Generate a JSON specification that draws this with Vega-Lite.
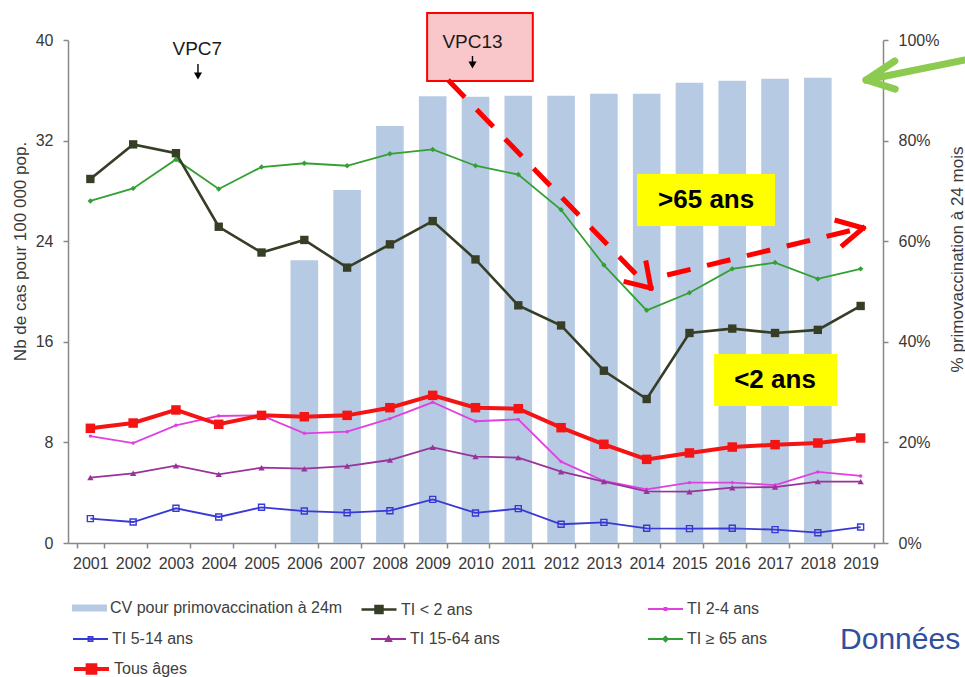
{
  "$schema": "https://vega.github.io/schema/vega-lite/v6.json",
  "width": 815,
  "height": 503,
  "autosize": {"type": "none"},
  "padding": {"left": 68, "top": 40, "right": 82, "bottom": 134},
  "background": "white",
  "config": {
    "view": {"stroke": null},
    "font": "Liberation Sans",
    "axis": {"labelFont": "Liberation Sans", "labelFontSize": 16, "labelColor": "#383838", "domainColor": "#888888", "domainWidth": 1.5, "tickColor": "#888888", "tickWidth": 1.5, "tickSize": 5, "grid": false, "titleFont": "Liberation Sans", "titleFontSize": 17, "titleFontWeight": "normal", "titleColor": "#383838"},
    "axisX": {"labelPadding": 7, "labelAngle": 0, "tickBand": "extent"},
    "axisLeft": {"labelPadding": 10, "titleAngle": -90, "titleX": -48, "titleY": 211, "titleBaseline": "middle", "titleAlign": "center"},
    "axisRight": {"labelPadding": 10, "titleAngle": -90, "titleX": 74, "titleY": 219, "titleBaseline": "middle", "titleAlign": "center"},
    "legend": {"labelFont": "Liberation Sans", "labelFontSize": 16, "labelColor": "#404040", "labelLimit": 400, "labelOffset": 3, "padding": 0}
  },
  "datasets": {
    "cv": [
      {"annee": "2006", "serie": "CV pour primovaccination à 24m", "cv": 56.2},
      {"annee": "2007", "serie": "CV pour primovaccination à 24m", "cv": 70.2},
      {"annee": "2008", "serie": "CV pour primovaccination à 24m", "cv": 82.9},
      {"annee": "2009", "serie": "CV pour primovaccination à 24m", "cv": 88.8},
      {"annee": "2010", "serie": "CV pour primovaccination à 24m", "cv": 88.7},
      {"annee": "2011", "serie": "CV pour primovaccination à 24m", "cv": 88.9},
      {"annee": "2012", "serie": "CV pour primovaccination à 24m", "cv": 88.9},
      {"annee": "2013", "serie": "CV pour primovaccination à 24m", "cv": 89.3},
      {"annee": "2014", "serie": "CV pour primovaccination à 24m", "cv": 89.3},
      {"annee": "2015", "serie": "CV pour primovaccination à 24m", "cv": 91.5},
      {"annee": "2016", "serie": "CV pour primovaccination à 24m", "cv": 91.9},
      {"annee": "2017", "serie": "CV pour primovaccination à 24m", "cv": 92.3},
      {"annee": "2018", "serie": "CV pour primovaccination à 24m", "cv": 92.5}
    ],
    "ti": [
      {"annee": "2001", "serie": "TI < 2 ans", "v": 28.95},
      {"annee": "2002", "serie": "TI < 2 ans", "v": 31.7},
      {"annee": "2003", "serie": "TI < 2 ans", "v": 31.0},
      {"annee": "2004", "serie": "TI < 2 ans", "v": 25.15},
      {"annee": "2005", "serie": "TI < 2 ans", "v": 23.1},
      {"annee": "2006", "serie": "TI < 2 ans", "v": 24.1},
      {"annee": "2007", "serie": "TI < 2 ans", "v": 21.9},
      {"annee": "2008", "serie": "TI < 2 ans", "v": 23.75},
      {"annee": "2009", "serie": "TI < 2 ans", "v": 25.6},
      {"annee": "2010", "serie": "TI < 2 ans", "v": 22.55},
      {"annee": "2011", "serie": "TI < 2 ans", "v": 18.9},
      {"annee": "2012", "serie": "TI < 2 ans", "v": 17.3},
      {"annee": "2013", "serie": "TI < 2 ans", "v": 13.7},
      {"annee": "2014", "serie": "TI < 2 ans", "v": 11.45},
      {"annee": "2015", "serie": "TI < 2 ans", "v": 16.7},
      {"annee": "2016", "serie": "TI < 2 ans", "v": 17.05},
      {"annee": "2017", "serie": "TI < 2 ans", "v": 16.7},
      {"annee": "2018", "serie": "TI < 2 ans", "v": 16.95},
      {"annee": "2019", "serie": "TI < 2 ans", "v": 18.85},
      {"annee": "2001", "serie": "TI 2-4 ans", "v": 8.5},
      {"annee": "2002", "serie": "TI 2-4 ans", "v": 7.95},
      {"annee": "2003", "serie": "TI 2-4 ans", "v": 9.36},
      {"annee": "2004", "serie": "TI 2-4 ans", "v": 10.1},
      {"annee": "2005", "serie": "TI 2-4 ans", "v": 10.15},
      {"annee": "2006", "serie": "TI 2-4 ans", "v": 8.72},
      {"annee": "2007", "serie": "TI 2-4 ans", "v": 8.85},
      {"annee": "2008", "serie": "TI 2-4 ans", "v": 9.89},
      {"annee": "2009", "serie": "TI 2-4 ans", "v": 11.19},
      {"annee": "2010", "serie": "TI 2-4 ans", "v": 9.68},
      {"annee": "2011", "serie": "TI 2-4 ans", "v": 9.83},
      {"annee": "2012", "serie": "TI 2-4 ans", "v": 6.47},
      {"annee": "2013", "serie": "TI 2-4 ans", "v": 4.93},
      {"annee": "2014", "serie": "TI 2-4 ans", "v": 4.27},
      {"annee": "2015", "serie": "TI 2-4 ans", "v": 4.8},
      {"annee": "2016", "serie": "TI 2-4 ans", "v": 4.8},
      {"annee": "2017", "serie": "TI 2-4 ans", "v": 4.61},
      {"annee": "2018", "serie": "TI 2-4 ans", "v": 5.65},
      {"annee": "2019", "serie": "TI 2-4 ans", "v": 5.33},
      {"annee": "2001", "serie": "TI 5-14 ans", "v": 1.94},
      {"annee": "2002", "serie": "TI 5-14 ans", "v": 1.67},
      {"annee": "2003", "serie": "TI 5-14 ans", "v": 2.76},
      {"annee": "2004", "serie": "TI 5-14 ans", "v": 2.07},
      {"annee": "2005", "serie": "TI 5-14 ans", "v": 2.84},
      {"annee": "2006", "serie": "TI 5-14 ans", "v": 2.54},
      {"annee": "2007", "serie": "TI 5-14 ans", "v": 2.41},
      {"annee": "2008", "serie": "TI 5-14 ans", "v": 2.57},
      {"annee": "2009", "serie": "TI 5-14 ans", "v": 3.47},
      {"annee": "2010", "serie": "TI 5-14 ans", "v": 2.39},
      {"annee": "2011", "serie": "TI 5-14 ans", "v": 2.73},
      {"annee": "2012", "serie": "TI 5-14 ans", "v": 1.49},
      {"annee": "2013", "serie": "TI 5-14 ans", "v": 1.64},
      {"annee": "2014", "serie": "TI 5-14 ans", "v": 1.17},
      {"annee": "2015", "serie": "TI 5-14 ans", "v": 1.14},
      {"annee": "2016", "serie": "TI 5-14 ans", "v": 1.17},
      {"annee": "2017", "serie": "TI 5-14 ans", "v": 1.06},
      {"annee": "2018", "serie": "TI 5-14 ans", "v": 0.82},
      {"annee": "2019", "serie": "TI 5-14 ans", "v": 1.27},
      {"annee": "2001", "serie": "TI 15-64 ans", "v": 5.2},
      {"annee": "2002", "serie": "TI 15-64 ans", "v": 5.54},
      {"annee": "2003", "serie": "TI 15-64 ans", "v": 6.15},
      {"annee": "2004", "serie": "TI 15-64 ans", "v": 5.46},
      {"annee": "2005", "serie": "TI 15-64 ans", "v": 5.99},
      {"annee": "2006", "serie": "TI 15-64 ans", "v": 5.91},
      {"annee": "2007", "serie": "TI 15-64 ans", "v": 6.12},
      {"annee": "2008", "serie": "TI 15-64 ans", "v": 6.6},
      {"annee": "2009", "serie": "TI 15-64 ans", "v": 7.61},
      {"annee": "2010", "serie": "TI 15-64 ans", "v": 6.87},
      {"annee": "2011", "serie": "TI 15-64 ans", "v": 6.79},
      {"annee": "2012", "serie": "TI 15-64 ans", "v": 5.67},
      {"annee": "2013", "serie": "TI 15-64 ans", "v": 4.88},
      {"annee": "2014", "serie": "TI 15-64 ans", "v": 4.11},
      {"annee": "2015", "serie": "TI 15-64 ans", "v": 4.08},
      {"annee": "2016", "serie": "TI 15-64 ans", "v": 4.4},
      {"annee": "2017", "serie": "TI 15-64 ans", "v": 4.45},
      {"annee": "2018", "serie": "TI 15-64 ans", "v": 4.88},
      {"annee": "2019", "serie": "TI 15-64 ans", "v": 4.88},
      {"annee": "2001", "serie": "TI ≥ 65 ans", "v": 27.2},
      {"annee": "2002", "serie": "TI ≥ 65 ans", "v": 28.2},
      {"annee": "2003", "serie": "TI ≥ 65 ans", "v": 30.5},
      {"annee": "2004", "serie": "TI ≥ 65 ans", "v": 28.15},
      {"annee": "2005", "serie": "TI ≥ 65 ans", "v": 29.9},
      {"annee": "2006", "serie": "TI ≥ 65 ans", "v": 30.2},
      {"annee": "2007", "serie": "TI ≥ 65 ans", "v": 30.0},
      {"annee": "2008", "serie": "TI ≥ 65 ans", "v": 30.95},
      {"annee": "2009", "serie": "TI ≥ 65 ans", "v": 31.3},
      {"annee": "2010", "serie": "TI ≥ 65 ans", "v": 30.0},
      {"annee": "2011", "serie": "TI ≥ 65 ans", "v": 29.3},
      {"annee": "2012", "serie": "TI ≥ 65 ans", "v": 26.5},
      {"annee": "2013", "serie": "TI ≥ 65 ans", "v": 22.1},
      {"annee": "2014", "serie": "TI ≥ 65 ans", "v": 18.5},
      {"annee": "2015", "serie": "TI ≥ 65 ans", "v": 19.9},
      {"annee": "2016", "serie": "TI ≥ 65 ans", "v": 21.8},
      {"annee": "2017", "serie": "TI ≥ 65 ans", "v": 22.3},
      {"annee": "2018", "serie": "TI ≥ 65 ans", "v": 21.0},
      {"annee": "2019", "serie": "TI ≥ 65 ans", "v": 21.8},
      {"annee": "2001", "serie": "Tous âges", "v": 9.12},
      {"annee": "2002", "serie": "Tous âges", "v": 9.54},
      {"annee": "2003", "serie": "Tous âges", "v": 10.58},
      {"annee": "2004", "serie": "Tous âges", "v": 9.44},
      {"annee": "2005", "serie": "Tous âges", "v": 10.15},
      {"annee": "2006", "serie": "Tous âges", "v": 10.04},
      {"annee": "2007", "serie": "Tous âges", "v": 10.15},
      {"annee": "2008", "serie": "Tous âges", "v": 10.76},
      {"annee": "2009", "serie": "Tous âges", "v": 11.74},
      {"annee": "2010", "serie": "Tous âges", "v": 10.76},
      {"annee": "2011", "serie": "Tous âges", "v": 10.68},
      {"annee": "2012", "serie": "Tous âges", "v": 9.17},
      {"annee": "2013", "serie": "Tous âges", "v": 7.85},
      {"annee": "2014", "serie": "Tous âges", "v": 6.65},
      {"annee": "2015", "serie": "Tous âges", "v": 7.16},
      {"annee": "2016", "serie": "Tous âges", "v": 7.63},
      {"annee": "2017", "serie": "Tous âges", "v": 7.82},
      {"annee": "2018", "serie": "Tous âges", "v": 7.95},
      {"annee": "2019", "serie": "Tous âges", "v": 8.35}
    ]
  },
  "layer": [
    {
      "layer": [
        {
          "data": {"name": "cv"},
          "mark": {"type": "bar"},
          "encoding": {
            "x": {
              "field": "annee", "type": "ordinal",
              "scale": {"domain": ["2001","2002","2003","2004","2005","2006","2007","2008","2009","2010","2011","2012","2013","2014","2015","2016","2017","2018","2019"], "paddingInner": 0.355, "paddingOuter": 0.2},
              "axis": {"title": null, "tickBand": "extent", "labelAngle": 0}
            },
            "y": {
              "field": "cv", "type": "quantitative",
              "scale": {"domain": [0, 100], "nice": false},
              "axis": {"orient": "right", "values": [0, 20, 40, 60, 80, 100], "labelExpr": "datum.value + '%'", "title": "% primovaccination à 24 mois"}
            },
            "color": {
              "field": "serie", "type": "nominal",
              "scale": {"domain": ["CV pour primovaccination à 24m"], "range": ["#B7CAE3"]},
              "legend": {"title": null, "orient": "none", "legendX": 4, "legendY": 550.5,
                "encode": {"symbols": {"update": {"shape": {"value": "M-1,-0.2H1V0.2H-1Z"}, "size": {"value": 1225}, "fill": {"value": "#B7CAE3"}, "stroke": {"value": "#B7CAE3"}, "strokeWidth": {"value": 0}, "opacity": {"value": 1}}}}}
            }
          }
        },
        {
          "layer": [
            {
              "data": {"name": "ti"},
              "transform": [{"filter": "datum.serie === 'TI ≥ 65 ans'"}],
              "mark": {"type": "line", "strokeWidth": 1.8, "point": {"shape": "diamond", "size": 30, "filled": true}},
              "encoding": {
                "x": {"field": "annee", "type": "ordinal", "axis": {"title": null, "tickBand": "extent", "labelAngle": 0}},
                "y": {"field": "v", "type": "quantitative", "scale": {"domain": [0, 40], "nice": false},
                  "axis": {"orient": "left", "values": [0, 8, 16, 24, 32, 40], "title": "Nb de cas pour 100 000 pop."}},
                "color": {"field": "serie", "type": "nominal", "scale": {"domain": ["TI ≥ 65 ans"], "range": ["#33A033"]},
                  "legend": {"title": null, "orient": "none", "legendX": 579, "legendY": 580.5,
                    "encode": {"symbols": {"update": {"shape": {"value": "M-1,0H1M0,-0.14L0.14,0L0,0.14L-0.14,0Z"}, "size": {"value": 1225}, "fill": {"value": "#33A033"}, "stroke": {"value": "#33A033"}, "strokeWidth": {"value": 1.8}, "opacity": {"value": 1}}}}}}
              }
            },
            {
              "data": {"name": "ti"},
              "transform": [{"filter": "datum.serie === 'TI < 2 ans'"}],
              "mark": {"type": "line", "strokeWidth": 2.6, "point": {"shape": "square", "size": 70, "filled": true}},
              "encoding": {
                "x": {"field": "annee", "type": "ordinal", "axis": {"title": null, "tickBand": "extent", "labelAngle": 0}},
                "y": {"field": "v", "type": "quantitative", "scale": {"domain": [0, 40], "nice": false},
                  "axis": {"orient": "left", "values": [0, 8, 16, 24, 32, 40], "title": "Nb de cas pour 100 000 pop."}},
                "color": {"field": "serie", "type": "nominal", "scale": {"domain": ["TI < 2 ans"], "range": ["#363E26"]},
                  "legend": {"title": null, "orient": "none", "legendX": 292, "legendY": 550.5,
                    "encode": {"symbols": {"update": {"shape": {"value": "M-1,0H1M-0.2,-0.2H0.2V0.2H-0.2Z"}, "size": {"value": 1225}, "fill": {"value": "#363E26"}, "stroke": {"value": "#363E26"}, "strokeWidth": {"value": 2.5}, "opacity": {"value": 1}}}}}}
              }
            },
            {
              "data": {"name": "ti"},
              "transform": [{"filter": "datum.serie === 'TI 2-4 ans'"}],
              "mark": {"type": "line", "strokeWidth": 1.8, "point": {"shape": "circle", "size": 12, "filled": true}},
              "encoding": {
                "x": {"field": "annee", "type": "ordinal", "axis": {"title": null, "tickBand": "extent", "labelAngle": 0}},
                "y": {"field": "v", "type": "quantitative", "scale": {"domain": [0, 40], "nice": false},
                  "axis": {"orient": "left", "values": [0, 8, 16, 24, 32, 40], "title": "Nb de cas pour 100 000 pop."}},
                "color": {"field": "serie", "type": "nominal", "scale": {"domain": ["TI 2-4 ans"], "range": ["#E040E0"]},
                  "legend": {"title": null, "orient": "none", "legendX": 579, "legendY": 550.5,
                    "encode": {"symbols": {"update": {"shape": {"value": "M-1,0H1M-0.06,-0.06H0.06V0.06H-0.06Z"}, "size": {"value": 1225}, "fill": {"value": "#E040E0"}, "stroke": {"value": "#E040E0"}, "strokeWidth": {"value": 1.8}, "opacity": {"value": 1}}}}}}
              }
            },
            {
              "data": {"name": "ti"},
              "transform": [{"filter": "datum.serie === 'TI 15-64 ans'"}],
              "mark": {"type": "line", "strokeWidth": 1.8, "point": {"shape": "triangle-up", "size": 40, "filled": true}},
              "encoding": {
                "x": {"field": "annee", "type": "ordinal", "axis": {"title": null, "tickBand": "extent", "labelAngle": 0}},
                "y": {"field": "v", "type": "quantitative", "scale": {"domain": [0, 40], "nice": false},
                  "axis": {"orient": "left", "values": [0, 8, 16, 24, 32, 40], "title": "Nb de cas pour 100 000 pop."}},
                "color": {"field": "serie", "type": "nominal", "scale": {"domain": ["TI 15-64 ans"], "range": ["#993399"]},
                  "legend": {"title": null, "orient": "none", "legendX": 302, "legendY": 580.5,
                    "encode": {"symbols": {"update": {"shape": {"value": "M-1,0H1M0,-0.16L0.16,0.12H-0.16Z"}, "size": {"value": 1225}, "fill": {"value": "#993399"}, "stroke": {"value": "#993399"}, "strokeWidth": {"value": 1.8}, "opacity": {"value": 1}}}}}}
              }
            },
            {
              "data": {"name": "ti"},
              "transform": [{"filter": "datum.serie === 'TI 5-14 ans'"}],
              "mark": {"type": "line", "strokeWidth": 1.8, "point": {"shape": "square", "size": 36, "filled": false, "strokeWidth": 1.4}},
              "encoding": {
                "x": {"field": "annee", "type": "ordinal", "axis": {"title": null, "tickBand": "extent", "labelAngle": 0}},
                "y": {"field": "v", "type": "quantitative", "scale": {"domain": [0, 40], "nice": false},
                  "axis": {"orient": "left", "values": [0, 8, 16, 24, 32, 40], "title": "Nb de cas pour 100 000 pop."}},
                "color": {"field": "serie", "type": "nominal", "scale": {"domain": ["TI 5-14 ans"], "range": ["#3838D6"]},
                  "legend": {"title": null, "orient": "none", "legendX": 4, "legendY": 580.5,
                    "encode": {"symbols": {"update": {"shape": {"value": "M-1,0H1M-0.12,-0.12H0.12V0.12H-0.12Z"}, "size": {"value": 1225}, "fill": {"value": "#ffffff"}, "stroke": {"value": "#3838D6"}, "strokeWidth": {"value": 1.8}, "opacity": {"value": 1}}}}}}
              }
            },
            {
              "data": {"name": "ti"},
              "transform": [{"filter": "datum.serie === 'Tous âges'"}],
              "mark": {"type": "line", "strokeWidth": 4, "point": {"shape": "square", "size": 90, "filled": true}},
              "encoding": {
                "x": {"field": "annee", "type": "ordinal", "axis": {"title": null, "tickBand": "extent", "labelAngle": 0}},
                "y": {"field": "v", "type": "quantitative", "scale": {"domain": [0, 40], "nice": false},
                  "axis": {"orient": "left", "values": [0, 8, 16, 24, 32, 40], "title": "Nb de cas pour 100 000 pop."}},
                "color": {"field": "serie", "type": "nominal", "scale": {"domain": ["Tous âges"], "range": ["#F41414"]},
                  "legend": {"title": null, "orient": "none", "legendX": 4, "legendY": 609.5,
                    "encode": {"symbols": {"update": {"shape": {"value": "M-1,0H1M-0.22,-0.22H0.22V0.22H-0.22Z"}, "size": {"value": 1225}, "fill": {"value": "#F41414"}, "stroke": {"value": "#F41414"}, "strokeWidth": {"value": 4}, "opacity": {"value": 1}}}}}}
              }
            }
          ],
          "resolve": {"scale": {"color": "independent"}}
        }
      ],
      "resolve": {"scale": {"y": "independent", "color": "independent"}}
    },
    {
      "layer": [
        {
          "data": {"values": [{"xa": 2008.87, "xb": 2011.34, "ya": 42.15, "yb": 36.74}]},
          "mark": {"type": "rect", "fill": "#F9C6C9", "stroke": "#FF0000", "strokeWidth": 2},
          "encoding": {
            "x": {"field": "xa", "type": "quantitative", "scale": {"domain": [2000.4774, 2019.5239], "nice": false, "zero": false}, "axis": null},
            "x2": {"field": "xb"},
            "y": {"field": "ya", "type": "quantitative", "scale": {"domain": [0, 40], "nice": false, "zero": false}, "axis": null},
            "y2": {"field": "yb"}
          }
        },
        {
          "data": {"values": [{"xa": 2013.775, "xb": 2017.0, "ya": 29.34, "yb": 25.21}, {"xa": 2015.575, "xb": 2018.45, "ya": 15.03, "yb": 10.89}]},
          "mark": {"type": "rect", "fill": "#FFFF00"},
          "encoding": {
            "x": {"field": "xa", "type": "quantitative", "scale": {"domain": [2000.4774, 2019.5239], "nice": false, "zero": false}, "axis": null},
            "x2": {"field": "xb"},
            "y": {"field": "ya", "type": "quantitative", "scale": {"domain": [0, 40], "nice": false, "zero": false}, "axis": null},
            "y2": {"field": "yb"}
          }
        },
        {
          "data": {"values": [{"label": "VPC7", "xa": 2003.5, "ya": 39.32}, {"label": "VPC13", "xa": 2009.93, "ya": 39.84}]},
          "mark": {"type": "text", "fontSize": 19, "color": "#1a1a1a", "align": "center", "baseline": "middle"},
          "encoding": {
            "x": {"field": "xa", "type": "quantitative", "scale": {"domain": [2000.4774, 2019.5239], "nice": false, "zero": false}, "axis": null},
            "y": {"field": "ya", "type": "quantitative", "scale": {"domain": [0, 40], "nice": false, "zero": false}, "axis": null},
            "text": {"field": "label"}
          }
        },
        {
          "data": {"values": [{"xa": 2003.515, "ya": 38.09, "xb": 2003.515, "yb": 37.3}, {"xa": 2009.93, "ya": 38.73, "xb": 2009.93, "yb": 38.1}]},
          "mark": {"type": "rule", "color": "#000000", "strokeWidth": 1.4},
          "encoding": {
            "x": {"field": "xa", "type": "quantitative", "scale": {"domain": [2000.4774, 2019.5239], "nice": false, "zero": false}, "axis": null},
            "x2": {"field": "xb"},
            "y": {"field": "ya", "type": "quantitative", "scale": {"domain": [0, 40], "nice": false, "zero": false}, "axis": null},
            "y2": {"field": "yb"}
          }
        },
        {
          "data": {"values": [{"xa": 2003.515, "ya": 37.14}, {"xa": 2009.93, "ya": 38.01}]},
          "mark": {"type": "point", "shape": "triangle-down", "size": 65, "filled": true, "color": "#000000", "opacity": 1},
          "encoding": {
            "x": {"field": "xa", "type": "quantitative", "scale": {"domain": [2000.4774, 2019.5239], "nice": false, "zero": false}, "axis": null},
            "y": {"field": "ya", "type": "quantitative", "scale": {"domain": [0, 40], "nice": false, "zero": false}, "axis": null}
          }
        },
        {
          "data": {"values": [{"label": ">65 ans", "xa": 2015.39, "ya": 27.28}, {"label": "<2 ans", "xa": 2017.0, "ya": 12.96}]},
          "mark": {"type": "text", "fontSize": 26, "fontWeight": "bold", "color": "#000000", "align": "center", "baseline": "middle"},
          "encoding": {
            "x": {"field": "xa", "type": "quantitative", "scale": {"domain": [2000.4774, 2019.5239], "nice": false, "zero": false}, "axis": null},
            "y": {"field": "ya", "type": "quantitative", "scale": {"domain": [0, 40], "nice": false, "zero": false}, "axis": null},
            "text": {"field": "label"}
          }
        },
        {
          "data": {"values": [{"label": "Données", "xa": 2018.52, "ya": -7.71}]},
          "mark": {"type": "text", "fontSize": 30, "color": "#2F4F9F", "align": "left", "baseline": "middle"},
          "encoding": {
            "x": {"field": "xa", "type": "quantitative", "scale": {"domain": [2000.4774, 2019.5239], "nice": false, "zero": false}, "axis": null},
            "y": {"field": "ya", "type": "quantitative", "scale": {"domain": [0, 40], "nice": false, "zero": false}, "axis": null},
            "text": {"field": "label"}
          }
        },
        {
          "data": {"values": [{"xa": 2009.36, "ya": 36.82, "xb": 2014.0, "yb": 20.5}, {"xa": 2014.48, "ya": 21.31, "xb": 2018.95, "yb": 25.0}]},
          "mark": {"type": "rule", "color": "#FF0000", "strokeWidth": 5, "strokeDash": [24, 17]},
          "encoding": {
            "x": {"field": "xa", "type": "quantitative", "scale": {"domain": [2000.4774, 2019.5239], "nice": false, "zero": false}, "axis": null},
            "x2": {"field": "xb"},
            "y": {"field": "ya", "type": "quantitative", "scale": {"domain": [0, 40], "nice": false, "zero": false}, "axis": null},
            "y2": {"field": "yb"}
          }
        },
        {
          "data": {"values": [
            {"xa": 2014.10, "ya": 20.28, "xb": 2013.99, "yb": 22.27},
            {"xa": 2014.10, "ya": 20.28, "xb": 2013.52, "yb": 20.76},
            {"xa": 2019.06, "ya": 25.05, "xb": 2018.45, "yb": 25.63},
            {"xa": 2019.06, "ya": 25.05, "xb": 2018.59, "yb": 23.70}
          ]},
          "mark": {"type": "rule", "color": "#FF0000", "strokeWidth": 5, "strokeCap": "square"},
          "encoding": {
            "x": {"field": "xa", "type": "quantitative", "scale": {"domain": [2000.4774, 2019.5239], "nice": false, "zero": false}, "axis": null},
            "x2": {"field": "xb"},
            "y": {"field": "ya", "type": "quantitative", "scale": {"domain": [0, 40], "nice": false, "zero": false}, "axis": null},
            "y2": {"field": "yb"}
          }
        },
        {
          "data": {"values": [
            {"xa": 2019.13, "ya": 36.82, "xb": 2021.44, "yb": 38.41},
            {"xa": 2019.13, "ya": 36.82, "xb": 2019.80, "yb": 38.33},
            {"xa": 2019.13, "ya": 36.82, "xb": 2019.81, "yb": 36.10}
          ]},
          "mark": {"type": "rule", "color": "#8CCB50", "strokeWidth": 7, "strokeCap": "round"},
          "encoding": {
            "x": {"field": "xa", "type": "quantitative", "scale": {"domain": [2000.4774, 2019.5239], "nice": false, "zero": false}, "axis": null},
            "x2": {"field": "xb"},
            "y": {"field": "ya", "type": "quantitative", "scale": {"domain": [0, 40], "nice": false, "zero": false}, "axis": null},
            "y2": {"field": "yb"}
          }
        }
      ]
    }
  ],
  "resolve": {"scale": {"x": "independent", "y": "independent", "color": "independent"}}
}
